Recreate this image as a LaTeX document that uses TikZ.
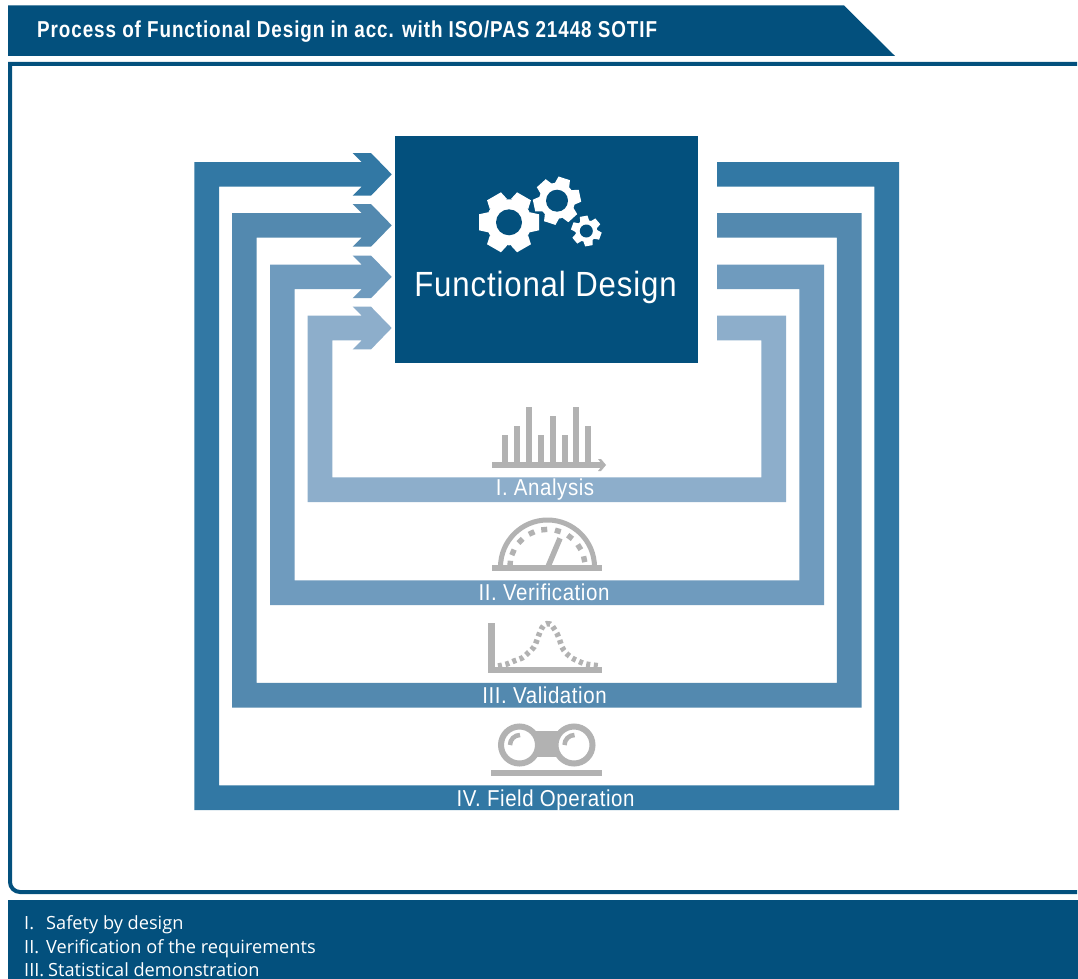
\documentclass[tikz,border=0pt]{standalone}
\usepackage{fontspec}
\setmainfont{Liberation Sans}
\newfontfamily\titlefont[FakeStretch=0.82,LetterSpace=4]{Liberation Sans}
\newfontfamily\condfont[FakeStretch=0.89,LetterSpace=2.5]{Liberation Sans}
\newfontfamily\notefont{Open Sans}
\definecolor{navy}{HTML}{03507D}
\definecolor{bandA}{HTML}{3278A4}
\definecolor{bandB}{HTML}{5389AF}
\definecolor{bandC}{HTML}{6F9BBE}
\definecolor{bandD}{HTML}{8DAECB}
\definecolor{icongrey}{HTML}{B2B2B2}
\tikzset{
  bandlabel/.style={text=white,inner sep=0pt,anchor=base,font=\condfont\fontsize{23}{23}\selectfont},
  notetext/.style={text=white,inner sep=0pt,anchor=base west,font=\notefont\fontsize{18.2}{20}\selectfont},
  iconstroke/.style={draw=icongrey,line width=#1}
}
% left, top, right, bottom, colour
\newcommand{\bandloop}[5]{%
  \fill[#5] (717,#2) -- (#3,#2) -- (#3,#4) -- (#1,#4) -- (#1,#2) -- (361.7,#2)
    -- (352.7,{#2-9}) -- (371,{#2-9}) -- (391.7,{#2+12.3}) -- (371,{#2+33.7}) -- (352.7,{#2+33.7})
    -- (361.7,{#2+24.7}) -- ({#1+24.7},{#2+24.7}) -- ({#1+24.7},{#4-24.7})
    -- ({#3-24.7},{#4-24.7}) -- ({#3-24.7},{#2+24.7}) -- (717,{#2+24.7}) -- cycle;}
% cx, cy, outer, body, hole, half tooth width, angle offset
\newcommand{\gearicon}[7]{%
  \begin{scope}[shift={(#1,#2)}]
    \fill[white] (0,0) circle[radius=#4 pt];
    \foreach \toothangle in {0,60,...,300} {
      \fill[white,rotate=\toothangle+#7]
        (#4 pt-2pt,{-1.25*#6 pt}) -- (#3 pt,-#6 pt) -- (#3 pt,#6 pt) -- (#4 pt-2pt,{1.25*#6 pt}) -- cycle;
    }
    \fill[navy] (0,0) circle[radius=#5 pt];
  \end{scope}}
\begin{document}
\begin{tikzpicture}[x=1pt,y=-1pt]
\useasboundingbox (0,0) rectangle (1078,979);
\fill[white] (0,0) rectangle (1078,979);
% title band
\fill[navy] (8,5.5) -- (844,5.5) -- (895,56) -- (8,56) -- cycle;
\node[text=white,inner sep=0pt,anchor=base west,font=\titlefont\bfseries\fontsize{23}{23}\selectfont] (title) at (37,37.7) {Process of Functional Design in acc. with ISO/PAS 21448 SOTIF};
% frame
\draw[navy,line width=4pt,rounded corners=0pt] (1077,64) -- (10,64) -- (10,882) [rounded corners=10pt] -- (10,892) -- (1077,892);
% footer
\fill[navy] (8,900) rectangle (1078,979);
\node[notetext] (n1a) at (24,929) {I.};
\node[notetext] (n1b) at (46,929) {Safety by design};
\node[notetext] (n2a) at (24,953) {II.};
\node[notetext] (n2b) at (46,953) {Verification of the requirements};
\node[notetext] (n3a) at (24,976.5) {III.};
\node[notetext] (n3b) at (48,976.5) {Statistical demonstration};
% bands
\bandloop{194.3}{162}{899}{810}{bandA}
\bandloop{232}{213}{861.5}{707.5}{bandB}
\bandloop{270}{264.5}{824}{605}{bandC}
\bandloop{307.7}{315.7}{786}{502}{bandD}
% central box
\node[fill=navy,minimum width=303pt,minimum height=227pt,inner sep=0pt] (design) at (546.5,249.5) {};
\node[text=white,inner sep=0pt,anchor=base,font=\condfont\fontsize{35}{35}\selectfont] (designlabel) at (545.5,296) {Functional Design};
\gearicon{509}{222.3}{30}{23}{13}{8}{0}
\gearicon{557}{200.7}{23.5}{18}{11}{6}{12}
\gearicon{586.3}{231}{15}{11}{6.5}{3.8}{40}
% band labels
\node[bandlabel] (l1) at (545,495) {I. Analysis};
\node[bandlabel] (l2) at (544,600) {II. Verification};
\node[bandlabel] (l3) at (544.5,703.3) {III. Validation};
\node[bandlabel] (l4) at (545.5,806.7) {IV. Field Operation};
% analysis icon
\foreach \bx/\by in {505.3/435,517/425.7,529/406.7,541/435,552.7/416,564.7/435,576.3/406.7,588/425.7}
  \fill[icongrey] ({\bx-3},\by) rectangle ({\bx+3},465);
\fill[icongrey] (491.7,461.7) rectangle (602,468.3);
\fill[icongrey] (598,459) -- (601,459) -- (606,465) -- (601,471) -- (598,471) -- (601,467) -- (601,463) -- cycle;
% gauge icon
\fill[icongrey] (491.7,565) rectangle (601.7,570.7);
\draw[iconstroke=5pt] (500.5,567) arc[start angle=180,end angle=0,radius=47pt];
\foreach \dotangle in {12,32,53,74,95,115,136,157,175}
  \fill[icongrey,shift={({547.5+37.5*cos(\dotangle)},{567-37.5*sin(\dotangle)})},rotate=\dotangle-90] (-3pt,-2.7pt) rectangle (3pt,2.7pt);
\draw[iconstroke=5.5pt] (548.3,566) -- (560,538.3);
% bell icon
\fill[icongrey] (488.3,623.3) rectangle (494.7,673.3);
\fill[icongrey] (488.3,666.7) rectangle (601.7,673.3);
\draw[iconstroke=5.5pt,dash pattern=on 4pt off 3.6pt] plot[smooth,tension=0.6] coordinates {(498,666) (507,664) (514,661) (522,658) (528,653) (534,647) (537,640) (540,632) (544,625) (550,624) (555,630) (559,638) (562,647) (566,653) (572,658) (578,661) (586,664) (601,666)};
% binocular icon
\fill[icongrey] (535,731) -- (559,731) -- (559,757) -- (535,757) -- cycle;
\draw[iconstroke=6pt,fill=white] (519.5,745) circle[radius=18.5pt];
\draw[iconstroke=6pt,fill=white] (574,745) circle[radius=18.5pt];
\draw[iconstroke=4.5pt] (510,745) arc[start angle=180,end angle=90,radius=10pt];
\draw[iconstroke=4.5pt] (564.5,745) arc[start angle=180,end angle=90,radius=10pt];
\fill[icongrey] (491,770) rectangle (602,775.7);
\end{tikzpicture}
\end{document}
